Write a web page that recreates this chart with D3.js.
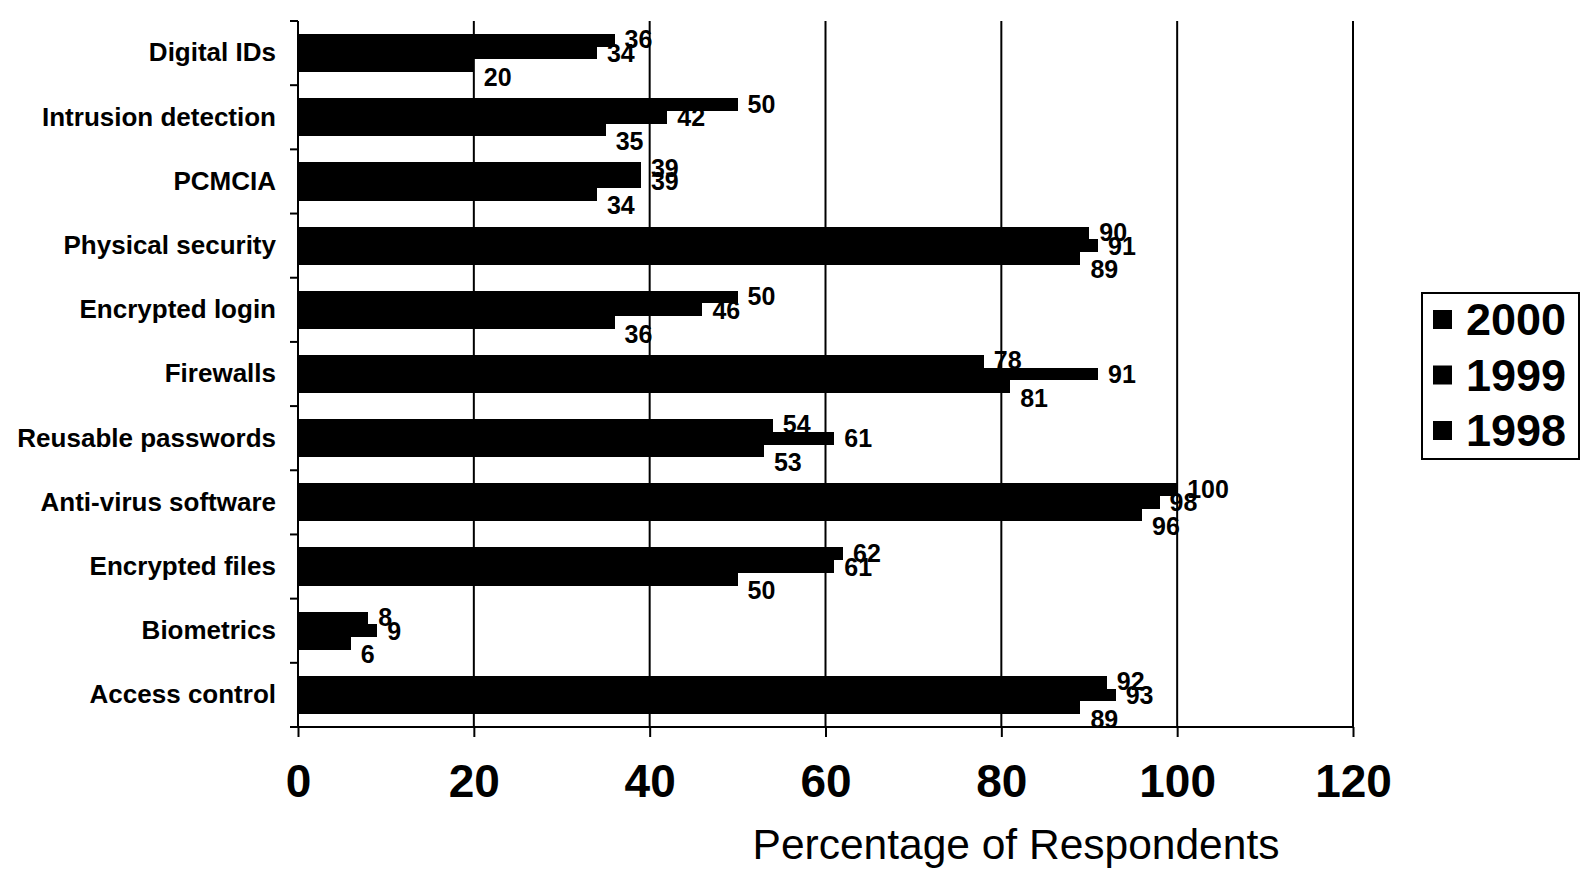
<!DOCTYPE html>
<html>
<head>
<meta charset="utf-8">
<script src="https://cdn.jsdelivr.net/npm/d3@7"></script>
<style>
  html, body { margin: 0; padding: 0; background: #fff; }
  svg { display: block; }
  text { font-family: "Liberation Sans", Arial, sans-serif; fill: #000; }
</style>
</head>
<body>
<svg id="chart" width="1581" height="869"></svg>
<script>
// ---- data ----
const categories = ["Digital IDs", "Intrusion detection", "PCMCIA", "Physical security",
  "Encrypted login", "Firewalls", "Reusable passwords", "Anti-virus software",
  "Encrypted files", "Biometrics", "Access control"];
const seriesNames = ["2000", "1999", "1998"];
const values2000 = [36, 50, 39, 90, 50, 78, 54, 100, 62, 8, 92];
const values1999 = [34, 42, 39, 91, 46, 91, 61, 98, 61, 9, 93];
const values1998 = [20, 35, 34, 89, 36, 81, 53, 96, 50, 6, 89];
const xTickValues = [0, 20, 40, 60, 80, 100, 120];
const xTitle = "Percentage of Respondents";

const seriesValues = [values2000, values1999, values1998];

// ---- layout ----
const svg = d3.select("#chart");
const plotLeft = 298, plotRight = 1353, plotTop = 21, plotBottom = 727;

const x = d3.scaleLinear().domain([0, 120]).range([plotLeft, plotRight]);
const y = d3.scaleBand().domain(categories).range([plotTop, plotBottom])
  .paddingInner(0.406).paddingOuter(0.203);
const ySub = d3.scaleBand().domain(seriesNames).range([0, y.bandwidth()]);

// gridlines
svg.append("g").selectAll("line").data(xTickValues.filter(d => d > 0)).join("line")
  .attr("x1", d => x(d)).attr("x2", d => x(d))
  .attr("y1", plotTop).attr("y2", plotBottom)
  .attr("stroke", "#000").attr("stroke-width", 2);

// data labels (drawn first so bars sit above them)
const labelDy = [-1, 0, 11];
const labelsG = svg.append("g");
seriesNames.forEach((s, si) => {
  labelsG.selectAll("text.s" + si).data(categories).join("text")
    .attr("class", "s" + si)
    .attr("x", (c, i) => x(seriesValues[si][i]) + 10)
    .attr("y", c => y(c) + ySub(s) + ySub.bandwidth() / 2 + labelDy[si])
    .attr("dy", "0.36em")
    .attr("font-size", 25).attr("font-weight", "bold")
    .text((c, i) => seriesValues[si][i]);
});

// bars
const barsG = svg.append("g").attr("shape-rendering", "crispEdges");
seriesNames.forEach((s, si) => {
  barsG.selectAll("rect.s" + si).data(categories).join("rect")
    .attr("class", "s" + si)
    .attr("x", x(0))
    .attr("y", c => y(c) + ySub(s))
    .attr("width", (c, i) => x(seriesValues[si][i]) - x(0))
    .attr("height", ySub.bandwidth())
    .attr("fill", "#000");
});

// y axis: line + boundary ticks
const boundaries = categories.map(c => y(c) - y.step() * y.paddingInner() / 2);
boundaries.push(plotBottom);
const yAxisG = svg.append("g");
yAxisG.append("line").attr("x1", plotLeft).attr("x2", plotLeft).attr("y1", plotTop).attr("y2", plotBottom)
  .attr("stroke", "#000").attr("stroke-width", 2);
yAxisG.selectAll("line.tk").data(boundaries).join("line").attr("class", "tk")
  .attr("x1", plotLeft - 8).attr("x2", plotLeft).attr("y1", d => d).attr("y2", d => d)
  .attr("stroke", "#000").attr("stroke-width", 2);

// category labels via axis
const yLab = svg.append("g").attr("transform", `translate(${plotLeft},0)`)
  .call(d3.axisLeft(y).tickSize(0).tickPadding(22));
yLab.select(".domain").remove();
yLab.selectAll("text").attr("font-size", 26).attr("font-weight", "bold")
  .attr("font-family", "'Liberation Sans', Arial, sans-serif").attr("fill", "#000");

// x axis
const xAxisG = svg.append("g").attr("transform", `translate(0,${plotBottom})`)
  .call(d3.axisBottom(x).tickValues(xTickValues).tickSize(10).tickFormat(d3.format("d")));
xAxisG.select(".domain").attr("d", `M${plotLeft - 8},0H${plotRight}`).attr("stroke-width", 2);
xAxisG.selectAll(".tick line").attr("stroke-width", 2);
xAxisG.selectAll("text").attr("font-size", 46).attr("font-weight", "bold")
  .attr("font-family", "'Liberation Sans', Arial, sans-serif").attr("fill", "#000")
  .attr("y", 70).attr("dy", 0);

// x title
svg.append("text").attr("x", 1016).attr("y", 859).attr("text-anchor", "middle")
  .attr("font-size", 42.5).text(xTitle);

// legend
const lg = svg.append("g");
lg.append("rect").attr("x", 1422).attr("y", 293).attr("width", 157).attr("height", 166)
  .attr("fill", "#fff").attr("stroke", "#000").attr("stroke-width", 2);
const legendY = d3.scalePoint().domain(seriesNames).range([319, 430]);
lg.selectAll("rect.mk").data(seriesNames).join("rect").attr("class", "mk")
  .attr("x", 1433).attr("y", d => legendY(d) - 9).attr("width", 19).attr("height", 19)
  .attr("fill", "#000");
lg.selectAll("text").data(seriesNames).join("text")
  .attr("x", 1466).attr("y", d => legendY(d)).attr("dy", "0.36em")
  .attr("font-size", 45).attr("font-weight", "bold").text(d => d);
</script>
</body>
</html>
